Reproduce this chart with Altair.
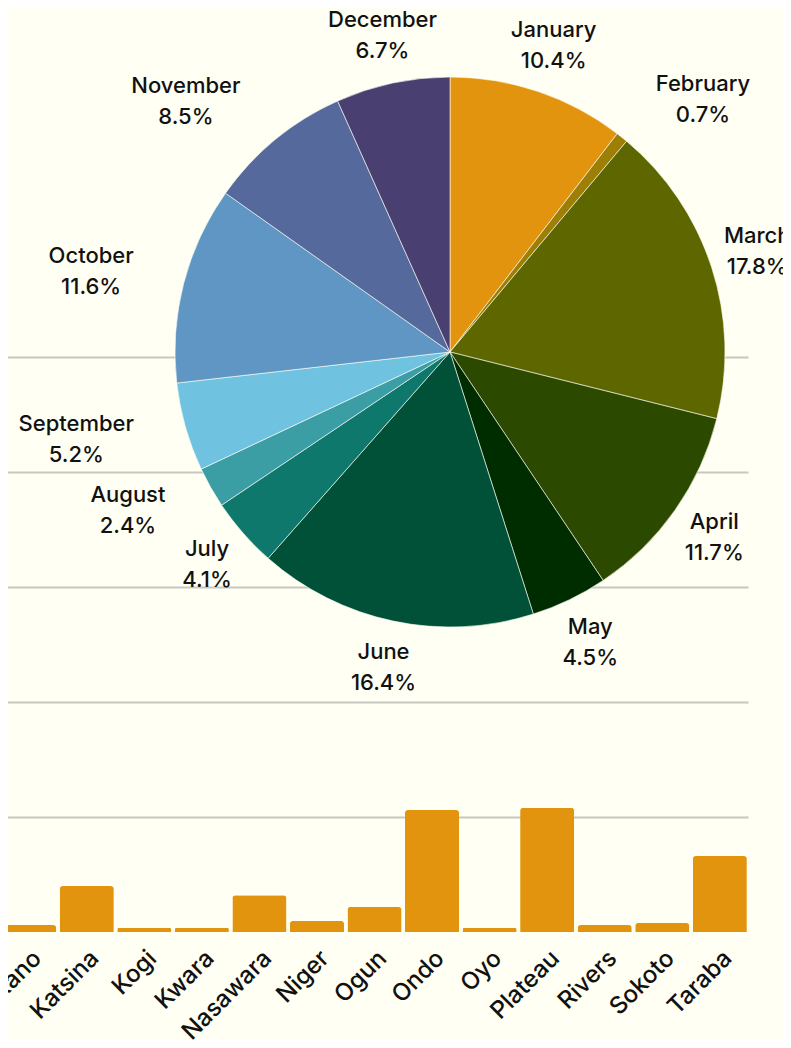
import altair as alt
import pandas as pd

# Pie data (share by month, %)
months = ["January", "February", "March", "April", "May", "June",
          "July", "August", "September", "October", "November", "December"]
shares = [10.4, 0.7, 17.8, 11.7, 4.5, 16.4, 4.1, 2.4, 5.2, 11.6, 8.5, 6.7]
month_colors = ["#E2940F", "#9E7F05", "#5E6600", "#2B4A00", "#002D00", "#005137",
                "#0E786C", "#3B9EA5", "#6FC3E0", "#5F96C4", "#55699C", "#4A3F71"]

# Bar data (states)
states = ["Kano", "Katsina", "Kogi", "Kwara", "Nasawara", "Niger", "Ogun",
          "Ondo", "Oyo", "Plateau", "Rivers", "Sokoto", "Taraba"]
state_values = [3.0, 20.0, 1.8, 1.8, 16.0, 4.8, 10.9, 53.0, 1.8, 54.0, 3.0, 3.9, 33.0]

# label placement style: horizontal shift (px) for labels pushed outward
LABEL_SHIFT = {"February": 51, "August": -41, "September": -63, "October": -46, "November": -59}

BG = "#FFFFF3"
FONT = "Inter"

pie_df = pd.DataFrame({
    "month": months,
    "share": shares,
    "order": list(range(len(months))),
    "label": [f"{m}\n{s}%" for m, s in zip(months, shares)],
})
bar_df = pd.DataFrame({"state": states, "value": state_values})

CX, CY = 442, 344  # pie centre (chart coordinates)
H = 924            # plot height (baseline of bars)
YMAX = H / 115 * 50

bars = alt.Chart(bar_df).mark_bar(
    color="#E2940F", cornerRadiusTopLeft=3, cornerRadiusTopRight=3
).encode(
    x=alt.X("state:N", sort=states,
            scale=alt.Scale(domain=states, range=[-7, 740], paddingInner=0.06, paddingOuter=0.02),
            axis=alt.Axis(title=None, labelAngle=-45, labelFontSize=24, labelFont=FONT,
                          labelFontWeight=500, labelColor="#111111", ticks=False, domain=False,
                          labelPadding=14, labelOffset=0, grid=False)),
    y=alt.Y("value:Q",
            scale=alt.Scale(domain=[0, YMAX], nice=False, zero=True),
            axis=alt.Axis(title=None, labels=False, ticks=False, domain=False,
                          values=[50, 100, 150, 200, 250],
                          grid=True, gridColor="#C8C8C0", gridWidth=2)),
)

pie_base = alt.Chart(pie_df).encode(
    theta=alt.Theta("share:Q", stack=True, scale=alt.Scale(type="linear", range=[0, 6.283185307])),
    order=alt.Order("order:Q"),
)

arcs = pie_base.mark_arc(outerRadius=275, stroke=BG, strokeWidth=0.6).encode(
    x=alt.value(CX), y=alt.value(CY),
    color=alt.Color("month:N", sort=months,
                    scale=alt.Scale(domain=months, range=month_colors), legend=None),
)

text_style = dict(font=FONT, fontSize=22, fontWeight=500, color="#111111",
                  lineBreak="\n", lineHeight=31, align="center", baseline="middle", dy=-16)
text_enc = dict(x=alt.value(CX), y=alt.value(CY), radius=alt.value(323), text="label:N")

shifted = list(LABEL_SHIFT.keys())
label_layers = [
    pie_base.mark_text(**text_style).encode(
        **text_enc,
        opacity=alt.condition(alt.FieldOneOfPredicate(field="month", oneOf=shifted),
                              alt.value(0), alt.value(1)),
    )
]
for m, dx in LABEL_SHIFT.items():
    label_layers.append(
        pie_base.mark_text(**{**text_style, "dx": dx}).encode(
            **text_enc,
            opacity=alt.condition(alt.FieldEqualPredicate(field="month", equal=m),
                                  alt.value(1), alt.value(0)),
        )
    )

chart = alt.layer(bars, arcs, *label_layers).resolve_scale(
    theta="independent"
).properties(
    width=738, height=H,
    background=BG,
    padding={"left": 0, "top": 0, "right": 37, "bottom": 108},
    autosize=alt.AutoSizeParams(type="none"),
).configure_view(stroke=None)

chart.save("out.html", embed_options={"renderer": "svg", "actions": False})
